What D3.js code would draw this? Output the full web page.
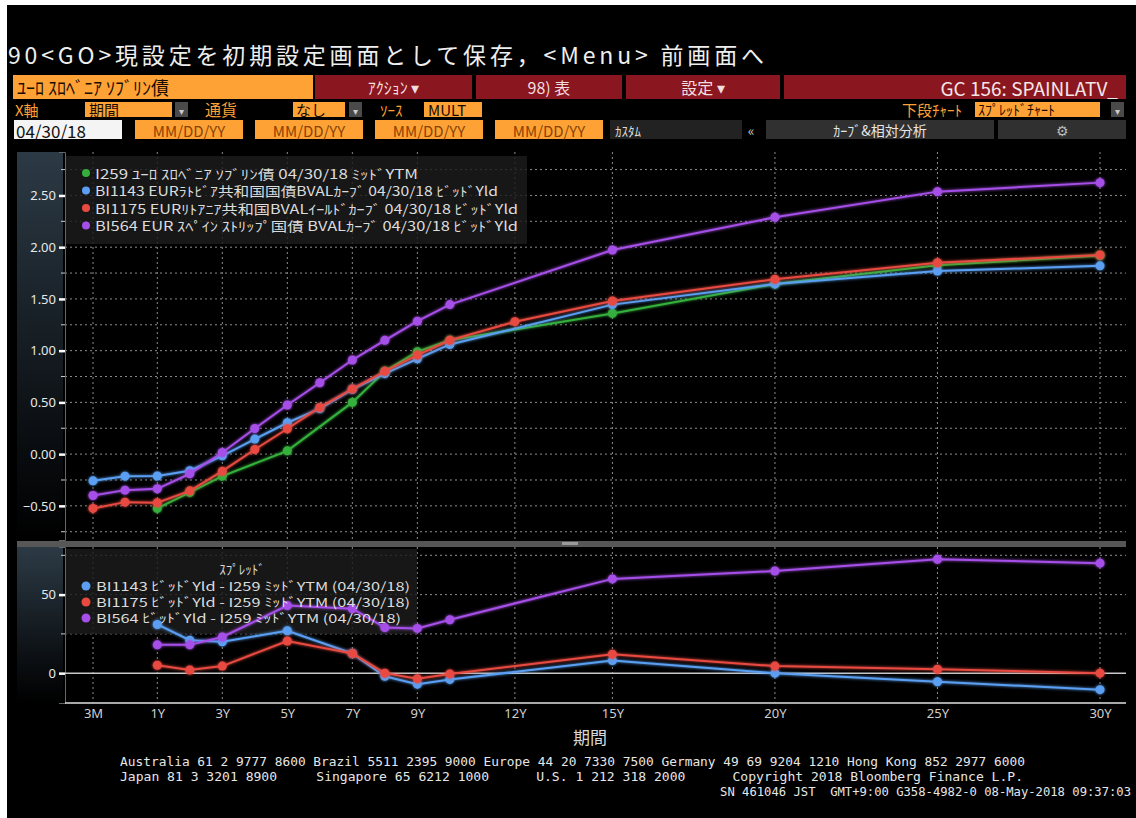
<!DOCTYPE html>
<html>
<head>
<meta charset="utf-8">
<script src="https://cdn.jsdelivr.net/npm/d3@7"></script>
<style>
body { margin: 0; background: #fff; }
svg { font-family: "Noto Sans CJK JP", "Noto Sans", sans-serif; }
</style>
</head>
<body>
<svg id="chart" width="1136" height="818"></svg>
<script>
// tenors in years (3M, 6M, 1Y ... 30Y)
const tenors = [0.25, 0.5, 1, 2, 3, 4, 5, 6, 7, 8, 9, 10, 12, 15, 20, 25, 30];

// yields (null = no point at that tenor)
const i259   = [null, null, -0.525, -0.37, -0.213, null, 0.032, null, 0.50, 0.80, 0.99, 1.10, null, 1.36, 1.645, 1.825, 1.92];
const bi1143 = [-0.258, -0.213, -0.211, -0.16, -0.016, 0.145, 0.303, 0.44, 0.626, 0.778, 0.922, 1.06, null, 1.445, 1.645, 1.77, 1.82];
const bi1175 = [-0.525, -0.464, -0.47, -0.355, -0.165, 0.045, 0.245, 0.451, 0.63, 0.80, 0.957, 1.10, 1.28, 1.48, 1.69, 1.85, 1.925];
const bi564  = [-0.40, -0.348, -0.335, -0.19, 0.016, 0.248, 0.475, 0.69, 0.91, 1.10, 1.285, 1.445, null, 1.973, 2.289, 2.537, 2.624];

// spreads (bp) in the lower panel
const spreadTenors = [1, 2, 3, 5, 7, 8, 9, 10, 15, 20, 25, 30];
const spread1143 = [31, 21, 20, 27, 12.5, -2, -7, -4, 8, 0, -5.5, -10.5];
const spread1175 = [5, 2, 4.5, 20.5, 12.5, 0, -3.5, -0.5, 12, 4.5, 2.5, 0];
const spread564  = [18, 18, 23, 43, 41, 29, 28.5, 34, 60, 65, 72.5, 70];

const tickTenors = [0.25, 1, 3, 5, 7, 9, 12, 15, 20, 25, 30];
const tickLabels = ["3M", "1Y", "3Y", "5Y", "7Y", "9Y", "12Y", "15Y", "20Y", "25Y", "30Y"];
const yTicks = [-0.5, 0, 0.5, 1, 1.5, 2, 2.5];
const yMinor = [-0.75, -0.25, 0.25, 0.75, 1.25, 1.75, 2.25, 2.75];
const spreadTicks = [0, 50];
const spreadMinor = [25, 75];

const legendTop = [
  "I259 ﾕｰﾛ ｽﾛﾍﾞﾆｱ ｿﾌﾞﾘﾝ債 04/30/18 ﾐｯﾄﾞYTM",
  "BI1143 EURﾗﾄﾋﾞｱ共和国国債BVALｶｰﾌﾞ 04/30/18 ﾋﾞｯﾄﾞYld",
  "BI1175 EURﾘﾄｱﾆｱ共和国BVALｲｰﾙﾄﾞｶｰﾌﾞ 04/30/18 ﾋﾞｯﾄﾞYld",
  "BI564 EUR ｽﾍﾟｲﾝ ｽﾄﾘｯﾌﾟ国債 BVALｶｰﾌﾞ 04/30/18 ﾋﾞｯﾄﾞYld"
];
const legendBottom = [
  "BI1143 ﾋﾞｯﾄﾞYld - I259 ﾐｯﾄﾞYTM (04/30/18)",
  "BI1175 ﾋﾞｯﾄﾞYld - I259 ﾐｯﾄﾞYTM (04/30/18)",
  "BI564 ﾋﾞｯﾄﾞYld - I259 ﾐｯﾄﾞYTM (04/30/18)"
];
const footer = [
  "Australia 61 2 9777 8600 Brazil 5511 2395 9000 Europe 44 20 7330 7500 Germany 49 69 9204 1210 Hong Kong 852 2977 6000",
  "Japan 81 3 3201 8900     Singapore 65 6212 1000      U.S. 1 212 318 2000      Copyright 2018 Bloomberg Finance L.P.",
  "SN 461046 JST  GMT+9:00 G358-4982-0 08-May-2018 09:37:03"
];

const cGreen = "#35b03c", cBlue = "#5a9ff2", cRed = "#e84a40", cPurple = "#a64fe8";
const orange = "#ffa236", maroon = "#8a1620";

const svg = d3.select("#chart");
svg.append("rect").attr("x", 7).attr("y", 5).attr("width", 1129).attr("height", 813).attr("fill", "#000");

const defs = svg.append("defs");
const glow = defs.append("filter").attr("id", "glow").attr("x", "-5%").attr("y", "-5%").attr("width", "110%").attr("height", "110%");
glow.append("feGaussianBlur").attr("stdDeviation", 1.6).attr("result", "b");
const fm = glow.append("feMerge");
fm.append("feMergeNode").attr("in", "b");
fm.append("feMergeNode").attr("in", "SourceGraphic");
const band = defs.append("linearGradient").attr("id", "band").attr("x1", 0).attr("y1", 0).attr("x2", 0).attr("y2", 1);
band.append("stop").attr("offset", "0%").attr("stop-color", "#2c3a45");
band.append("stop").attr("offset", "70%").attr("stop-color", "#0c1014");
band.append("stop").attr("offset", "100%").attr("stop-color", "#000");

// ---- header -----
svg.append("text").attr("x", 8).attr("y", 64).attr("fill", "#eee").attr("font-size", 23)
  .attr("textLength", 756).attr("lengthAdjust", "spacing")
  .text("90<GO>現設定を初期設定画面として保存，<Menu> 前画面へ");

function box(x, y, w, h, fill) {
  svg.append("rect").attr("x", x).attr("y", y).attr("width", w).attr("height", h).attr("fill", fill);
}
function label(x, y, t, color, size, anchor) {
  svg.append("text").attr("x", x).attr("y", y).attr("fill", color).attr("font-size", size)
    .attr("text-anchor", anchor || "start").attr("dominant-baseline", "central").text(t);
}
function drop(x, y) {
  box(x, y, 13, 15, "#4a4a4a");
  label(x + 6.5, y + 8, "▾", "#ccc", 10, "middle");
}

// row 1
box(13, 75, 300, 24, orange);
label(17, 87, "ﾕｰﾛ ｽﾛﾍﾞﾆｱ ｿﾌﾞﾘﾝ債", "#1a0c00", 18);
[[315, 157, "ｱｸｼｮﾝ ▾"], [476, 146, "98) 表"], [626, 154, "設定 ▾"]].forEach(d => {
  box(d[0], 75, d[1], 24, maroon);
  label(d[0] + d[1] / 2, 87, d[2], "#f2dede", 16, "middle");
});
box(784, 75, 342, 24, maroon);
label(1118, 87, "GC 156: SPAINLATV_", "#f4e6e6", 19, "end");

// row 2
label(15, 109, "X軸", orange, 15);
box(85, 102, 87, 15, orange); label(89, 109, "期間", "#1a0c00", 15);
drop(175, 102);
label(205, 109, "通貨", orange, 16);
box(293, 102, 52, 15, orange); label(296, 109, "なし", "#1a0c00", 15);
drop(349, 102);
label(380, 109, "ｿｰｽ", orange, 15);
box(424, 102, 58, 15, orange); label(428, 109, "MULT", "#1a0c00", 15);
label(962, 109, "下段ﾁｬｰﾄ", orange, 15, "end");
box(975, 102, 125, 15, orange); label(978, 109, "ｽﾌﾟﾚｯﾄﾞﾁｬｰﾄ", "#1a0c00", 14);
drop(1111, 102);

// row 3
box(14, 120, 108, 19, "#f4f4f4"); label(16, 130, "04/30/18", "#111", 17);
[135, 255, 375, 495].forEach(x => {
  box(x, 120, 108, 19, orange);
  label(x + 54, 130, "MM/DD/YY", "#8a4300", 15, "middle");
});
box(610, 120, 132, 19, "#222"); label(615, 130, "ｶｽﾀﾑ", "#ddd", 13);
label(751, 130, "«", "#ccc", 14, "middle");
box(766, 120, 228, 19, "#303030"); label(880, 130, "ｶｰﾌﾞ&相対分析", "#e6e6e6", 14, "middle");
box(998, 120, 128, 19, "#303030"); label(1062, 130, "⚙", "#bbb", 14, "middle");

// ---- scales -----
const plotL = 65, plotR = 1126;
const x = d3.scaleLinear().domain([0.25, 0.5, 1, 30]).range([93, 125, 157.3, 1100]);
const y = d3.scaleLinear().domain([-0.83, 2.92]).range([540, 152]);
const ys = d3.scaleLinear().domain([-19, 80.3]).range([703, 547]);

// axis bands
box(17, 152, 46, 388, "url(#band)");
box(17, 547, 46, 156, "url(#band)");

// gridlines
const grid = svg.append("g").attr("stroke", "#8c8c8c").attr("stroke-width", 1).attr("stroke-dasharray", "2,3");
grid.selectAll("line.h").data(yMinor.concat(yTicks)).join("line")
  .attr("x1", plotL).attr("x2", plotR).attr("y1", d => y(d)).attr("y2", d => y(d));
grid.selectAll("line.hs").data([25, 50, 75]).join("line")
  .attr("x1", plotL).attr("x2", plotR).attr("y1", d => ys(d)).attr("y2", d => ys(d));
grid.selectAll("line.v").data(tickTenors).join("line")
  .attr("x1", d => x(d)).attr("x2", d => x(d)).attr("y1", 152).attr("y2", 540);
grid.selectAll("line.vs").data(tickTenors).join("line")
  .attr("x1", d => x(d)).attr("x2", d => x(d)).attr("y1", 547).attr("y2", 703);

// separator
box(17, 541, 1109, 6, "#575757");
box(562, 542, 16, 3, "#9a9a9a");

// y axes
function styleAxis(g) {
  g.select(".domain").attr("stroke", "#666");
  g.selectAll(".tick line").attr("stroke", "#fff").attr("stroke-width", 2.5);
  g.selectAll(".tick text").attr("fill", "#e8e8e8").attr("font-size", 13).attr("font-family", "'Noto Sans', sans-serif");
}
svg.append("g").attr("transform", `translate(${plotL},0)`)
  .call(d3.axisLeft(y).tickValues(yTicks).tickFormat(d3.format(".2f")).tickSize(6).tickPadding(3))
  .call(styleAxis);
svg.append("g").attr("transform", `translate(${plotL},0)`)
  .call(d3.axisLeft(ys).tickValues(spreadTicks).tickFormat(d3.format("d")).tickSize(6).tickPadding(3))
  .call(styleAxis);
const minor = svg.append("g").attr("stroke", "#ccc").attr("stroke-width", 1);
minor.selectAll("line.a").data(yMinor).join("line")
  .attr("x1", plotL - 4).attr("x2", plotL).attr("y1", d => y(d)).attr("y2", d => y(d));
minor.selectAll("line.b").data(spreadMinor).join("line")
  .attr("x1", plotL - 4).attr("x2", plotL).attr("y1", d => ys(d)).attr("y2", d => ys(d));

// zero line of spread panel
svg.append("line").attr("x1", plotL).attr("x2", plotR).attr("y1", ys(0)).attr("y2", ys(0))
  .attr("stroke", "#c8c8c8").attr("stroke-width", 1.5);

// x axis
const xa = svg.append("g").attr("transform", "translate(0,703)")
  .call(d3.axisBottom(x).tickValues(tickTenors).tickFormat((d, i) => tickLabels[i]).tickSize(0).tickPadding(6));
xa.select(".domain").attr("stroke", "#e0e0e0").attr("stroke-width", 1.5).attr("d", `M${plotL},0H${plotR}`);
xa.selectAll(".tick text").attr("fill", "#d0d0d0").attr("font-size", 13).attr("font-family", "'Noto Sans', sans-serif");
label(590, 736, "期間", "#d8d8d8", 17, "middle");

// ---- series -----
function drawSeries(xs, vals, yScale, color) {
  const pts = xs.map((t, i) => ({ t: t, v: vals[i] })).filter(d => d.v !== null);
  const g = svg.append("g").attr("filter", "url(#glow)");
  g.append("path").datum(pts)
    .attr("d", d3.line().x(d => x(d.t)).y(d => yScale(d.v)))
    .attr("fill", "none").attr("stroke", color).attr("stroke-width", 2);
  g.selectAll("circle").data(pts).join("circle")
    .attr("cx", d => x(d.t)).attr("cy", d => yScale(d.v)).attr("r", 4.5).attr("fill", color);
}

// legend boxes sit under the lines
function legendBox(x0, y0, w, h) {
  svg.append("rect").attr("x", x0).attr("y", y0).attr("width", w).attr("height", h)
    .attr("fill", "#1c1c1c").attr("opacity", 0.82);
}
legendBox(66, 156, 461, 88);
legendBox(66, 549, 351, 85);

drawSeries(tenors, i259, y, cGreen);
drawSeries(tenors, bi1143, y, cBlue);
drawSeries(tenors, bi1175, y, cRed);
drawSeries(tenors, bi564, y, cPurple);

drawSeries(spreadTenors, spread1143, ys, cBlue);
drawSeries(spreadTenors, spread1175, ys, cRed);
drawSeries(spreadTenors, spread564, ys, cPurple);

// legend text on top
const topColors = [cGreen, cBlue, cRed, cPurple];
const topLens = [323, 403, 423, 423];
legendTop.forEach((t, i) => {
  const yy = 173 + i * 17.5;
  svg.append("circle").attr("cx", 86).attr("cy", yy).attr("r", 4).attr("fill", topColors[i]);
  svg.append("text").attr("x", 95).attr("y", yy).attr("dominant-baseline", "central")
    .attr("fill", "#dcdcdc").attr("font-size", 13)
    .attr("textLength", topLens[i]).attr("lengthAdjust", "spacingAndGlyphs").text(t);
});
label(242, 568, "ｽﾌﾟﾚｯﾄﾞ", "#dcdcdc", 13, "middle");
const botColors = [cBlue, cRed, cPurple];
legendBottom.forEach((t, i) => {
  const yy = 586 + i * 16;
  svg.append("circle").attr("cx", 86).attr("cy", yy).attr("r", 4.5).attr("fill", botColors[i]);
  svg.append("text").attr("x", 96).attr("y", yy).attr("dominant-baseline", "central")
    .attr("fill", "#dcdcdc").attr("font-size", 12.2)
    .attr("textLength", i === 2 ? 305 : 314).attr("lengthAdjust", "spacingAndGlyphs").text(t);
});

// ---- footer -----
const foot = svg.append("g").attr("fill", "#e6e6e6").attr("font-size", 12.2)
  .style("font-family", "'DejaVu Sans Mono', 'Liberation Mono', monospace");
foot.append("text").attr("x", 120).attr("y", 766).attr("textLength", 905).attr("lengthAdjust", "spacingAndGlyphs")
  .style("white-space", "pre").text(footer[0]);
foot.append("text").attr("x", 120).attr("y", 781).attr("textLength", 903).attr("lengthAdjust", "spacingAndGlyphs")
  .style("white-space", "pre").text(footer[1]);
foot.append("text").attr("x", 1131).attr("y", 796).attr("text-anchor", "end")
  .style("white-space", "pre").text(footer[2]);
</script>
</body>
</html>
